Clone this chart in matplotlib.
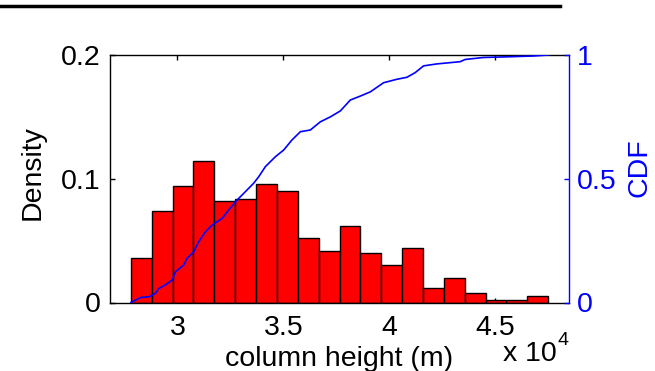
import numpy as np
import matplotlib
matplotlib.use("Agg")
import matplotlib.pyplot as plt
from matplotlib.lines import Line2D

plt.rcParams['font.family'] = ['Liberation Sans', 'DejaVu Sans']

# histogram of column height (relative frequency per bin)
bin_edges = [27800, 28785, 29770, 30755, 31740, 32725, 33710, 34695, 35680, 36665,
             37650, 38635, 39620, 40605, 41590, 42575, 43560, 44545, 45530, 46515, 47500]
density = [0.036, 0.074, 0.094, 0.114, 0.082, 0.084, 0.096, 0.090, 0.052, 0.042,
           0.062, 0.040, 0.030, 0.044, 0.012, 0.020, 0.008, 0.002, 0.002, 0.005]

cdf_x = [27800, 28255, 28646, 28962, 29118, 29434, 29750, 29906, 30297, 30458,
         30769, 31005, 31321, 31637, 32108, 32420, 32816, 33208, 33599, 33835,
         34151, 34623, 35014, 35410, 35802, 36274, 36745, 37217, 37689, 38160,
         38632, 39104, 39731, 40363, 40835, 41226, 41618, 42250, 43349, 43585,
         44448, 45708, 46807, 47500]
cdf_y = [0.0, 0.02, 0.023, 0.037, 0.057, 0.071, 0.091, 0.124, 0.152, 0.179,
         0.205, 0.246, 0.286, 0.313, 0.34, 0.374, 0.414, 0.448, 0.482, 0.508,
         0.549, 0.589, 0.616, 0.657, 0.69, 0.697, 0.73, 0.75, 0.774, 0.818,
         0.834, 0.851, 0.888, 0.902, 0.91, 0.929, 0.956, 0.964, 0.973, 0.982,
         0.99, 0.993, 0.996, 1.0]

xticks = [30000, 35000, 40000, 45000]
xticklabels = ['3', '3.5', '4', '4.5']

W, H = 655, 371
fs = 20.5
fig = plt.figure(figsize=(W / 100, H / 100), dpi=100)
ax = fig.add_axes([110 / W, 1 - 302.5 / H, (569 - 110) / W, (302.5 - 55) / H])

edges = np.array(bin_edges)
widths = np.diff(edges)
ax.bar(edges[:-1], density, width=widths, align='edge', color='#ff0000',
       edgecolor='black', linewidth=1.0, zorder=2)
ax.set_xlim(edges[0] - widths[0], edges[-1] + widths[-1])
ax.set_ylim(0, 0.2)
ax.set_xticks(xticks)
ax.set_xticklabels(xticklabels)
ax.set_yticks([0, 0.1, 0.2])
ax.set_yticklabels(['0', '0.1', '0.2'])
ax.tick_params(axis='both', direction='in', length=3.5, width=1.0, labelsize=fs,
               top=True, right=False)
ax.tick_params(axis='x', pad=9)
ax.tick_params(axis='y', pad=7)
ax.spines['right'].set_visible(False)
for s in ['left', 'top', 'bottom']:
    ax.spines[s].set_linewidth(1.0)

ax2 = ax.twinx()
ax2.plot(cdf_x, cdf_y, color='#0000ff', linewidth=1.2)
ax2.set_ylim(0, 1)
ax2.set_yticks([0, 0.5, 1])
ax2.set_yticklabels(['0', '0.5', '1'])
ax2.tick_params(axis='y', direction='in', length=3.5, width=1.0, labelsize=fs,
                colors='#0000ff', pad=5.5)
for s in ['left', 'top', 'bottom']:
    ax2.spines[s].set_visible(False)
ax2.spines['right'].set_color('#0000ff')
ax2.spines['right'].set_linewidth(1.0)

fig.text(339.5 / W, 1 - 366 / H, 'column height (m)', ha='center', va='baseline', fontsize=fs)
fig.text(503 / W, 1 - 361 / H, 'x 10', ha='left', va='baseline', fontsize=fs)
fig.text(557 / W, 1 - 345 / H, '4', ha='left', va='baseline', fontsize=14)
fig.text(33 / W, 1 - 173 / H, 'Density', ha='center', va='center', rotation=90, fontsize=fs)
fig.text(640 / W, 1 - 168 / H, 'CDF', ha='center', va='center', rotation=90,
         fontsize=fs, color='#0000ff')

fig.add_artist(Line2D([0, 560 / W], [1 - 6 / H, 1 - 6 / H], color='black', linewidth=2.5))

fig.savefig('out.png', dpi=100)
